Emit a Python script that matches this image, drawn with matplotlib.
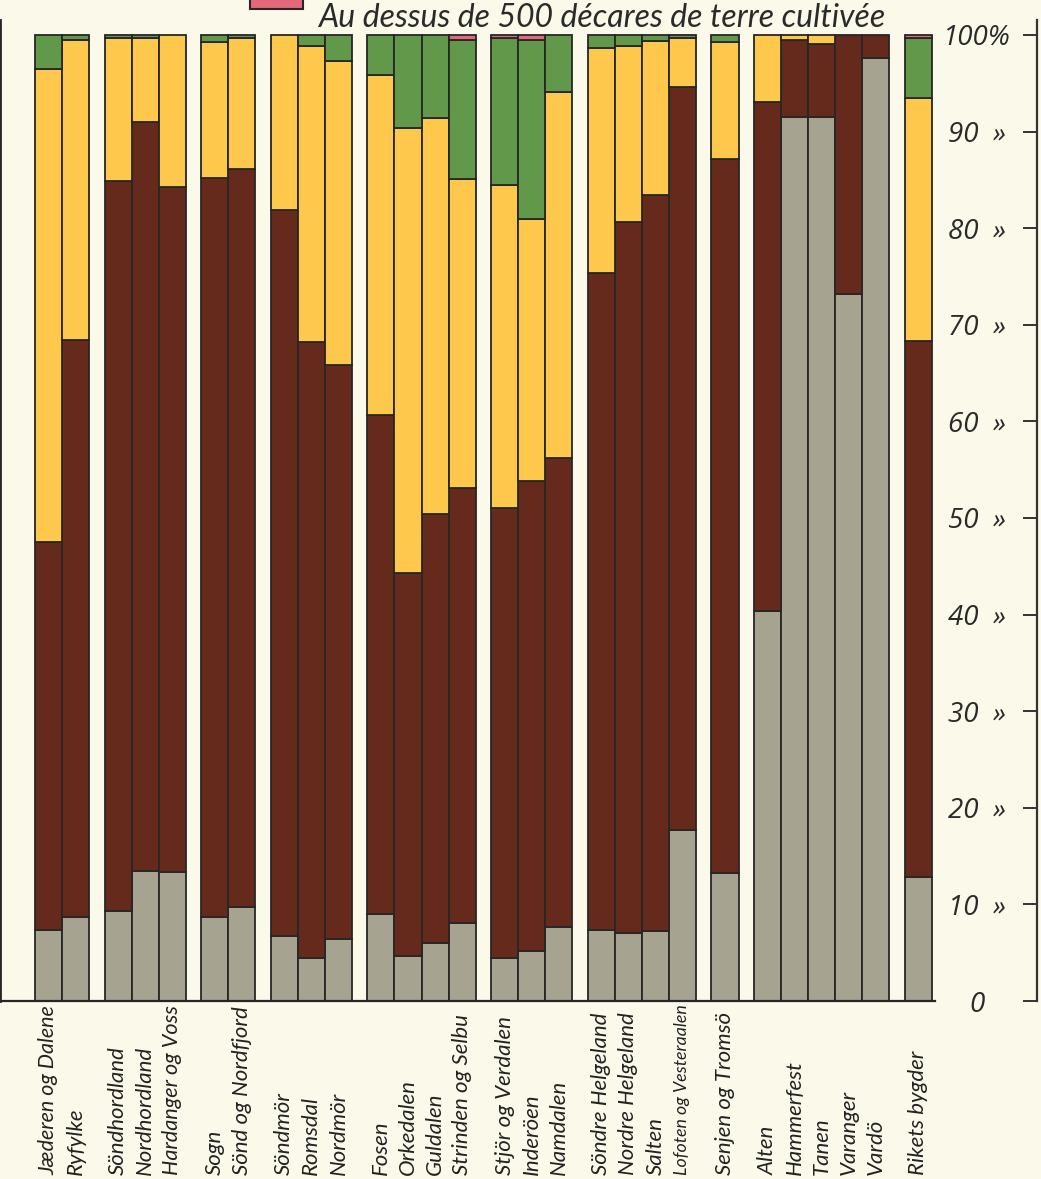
import matplotlib
matplotlib.use("Agg")
import matplotlib.pyplot as plt
from matplotlib.patches import Rectangle
import numpy as np

# ---------------- data ----------------
group_sizes = [2, 3, 2, 3, 4, 3, 4, 1, 5, 1]
districts = [
    "Jæderen og Dalene", "Ryfylke",
    "Söndhordland", "Nordhordland", "Hardanger og Voss",
    "Sogn", "Sönd og Nordfjord",
    "Söndmör", "Romsdal", "Nordmör",
    "Fosen", "Orkedalen", "Guldalen", "Strinden og Selbu",
    "Stjör og Verdalen", "Inderöen", "Namdalen",
    "Söndre Helgeland", "Nordre Helgeland", "Salten", "Lofoten og Vesteraalen",
    "Senjen og Tromsö",
    "Alten", "Hammerfest", "Tanen", "Varanger", "Vardö",
    "Rikets bygder",
]
grey = [7.3, 8.7, 9.3, 13.5, 13.4, 8.7, 9.7, 6.7, 4.4, 6.4, 9.0, 4.7, 6.0, 8.1,
        4.5, 5.2, 7.7, 7.3, 7.0, 7.2, 17.7, 13.3, 40.4, 91.5, 91.5, 73.2, 97.6, 12.8]
brown = [40.2, 59.7, 75.6, 77.5, 70.9, 76.5, 76.4, 75.2, 63.8, 59.4, 51.7, 39.6, 44.4, 45.0,
         46.5, 48.6, 48.5, 68.1, 73.6, 76.2, 76.9, 73.9, 52.7, 8.0, 7.6, 26.8, 2.4, 55.5]
yellow = [49.0, 31.1, 14.8, 8.7, 15.7, 14.1, 13.6, 18.1, 30.7, 31.5, 35.2, 46.1, 41.0, 32.0,
          33.5, 27.2, 37.9, 23.3, 18.3, 16.0, 5.1, 12.1, 6.9, 0.5, 0.9, 0.0, 0.0, 25.2]
green = [3.5, 0.5, 0.3, 0.3, 0.0, 0.7, 0.3, 0.0, 1.1, 2.7, 4.1, 9.6, 8.6, 14.4,
         15.2, 18.5, 5.9, 1.3, 1.1, 0.6, 0.3, 0.7, 0.0, 0.0, 0.0, 0.0, 0.0, 6.2]
pink = [0, 0, 0, 0, 0, 0, 0, 0, 0, 0, 0, 0, 0, 0.5,
        0.3, 0.5, 0, 0, 0, 0, 0, 0, 0, 0, 0, 0, 0, 0.3]
series = [grey, brown, yellow, green, pink]
series_colors = ["#a6a391", "#652a1c", "#fdc84b", "#61984a", "#e3687a"]
ytick_values = [0, 10, 20, 30, 40, 50, 60, 70, 80, 90, 100]
ytick_labels = ["0", "10  »", "20  »", "30  »", "40  »", "50  »", "60  »", "70  »",
                "80  »", "90  »", "100%"]
legend_text = "Au dessus de 500 décares de terre cultivée"

# ---------------- layout ----------------
W, H = 1041, 1179
bg = "#fbf9ea"
ink = "#262626"
fig = plt.figure(figsize=(W / 100, H / 100), dpi=100, facecolor=bg)

ax_left_px, ax_right_px = 0, 1037
base_px, top_px = 1001, 20
ax = fig.add_axes([ax_left_px / W, (H - base_px) / H,
                   (ax_right_px - ax_left_px) / W, (base_px - top_px) / H])
ax.set_facecolor(bg)

gap = 0.57
xpos = []
cur = 0.0
for gs in group_sizes:
    for i in range(gs):
        xpos.append(cur)
        cur += 1.0
    cur += gap
xpos = np.array(xpos)

bar_px = 27.07
x0 = -48.5 / bar_px
ax.set_xlim(x0, x0 + (ax_right_px - ax_left_px) / bar_px)
px_per_pct = (base_px - 35) / 100.0
ax.set_ylim(0, (base_px - top_px) / px_per_pct)

bottom = np.zeros(len(districts))
for vals, col in zip(series, series_colors):
    v = np.array(vals, dtype=float)
    mask = v > 0
    ax.bar(xpos[mask], v[mask], width=1.0, bottom=bottom[mask], color=col,
           edgecolor=ink, linewidth=1.3, zorder=2)
    bottom += v

# spines
ax.spines["top"].set_visible(False)
ax.spines["left"].set_color(ink)
ax.spines["left"].set_linewidth(2.0)
ax.spines["right"].set_color("#333333")
ax.spines["right"].set_linewidth(1.6)
ax.spines["bottom"].set_color(ink)
ax.spines["bottom"].set_linewidth(1.6)
ax.spines["bottom"].set_bounds(x0, x0 + 935 / bar_px)

# y axis on right, ticks pointing in, labels inside
ax.yaxis.tick_right()
ax.set_yticks(ytick_values)
ax.set_yticklabels(ytick_labels)
ax.tick_params(axis="y", direction="in", length=10, width=1.4, color="#333333",
               pad=-43, labelsize=20, labelcolor="#2a2a2a")
for lbl in ax.get_yticklabels():
    lbl.set_ha("center")
    lbl.set_fontstyle("italic")
    lbl.set_family("Open Sans")

# x labels
ax.set_xticks(xpos)
ax.set_xticklabels(districts, rotation=90)
base_fs = 16
ax.tick_params(axis="x", length=0, pad=(1175 - base_px) * 72 / 100, labelsize=base_fs,
               labelcolor="#222222")
for lbl in ax.get_xticklabels():
    lbl.set_va("bottom")
    lbl.set_fontstyle("italic")
    lbl.set_family("Lato")

# shrink long labels to fit below the baseline
fig.canvas.draw()
renderer = fig.canvas.get_renderer()
max_h = 170
for lbl in ax.get_xticklabels():
    h = lbl.get_window_extent(renderer).height
    if h > max_h:
        lbl.set_fontsize(base_fs * max_h / h)

# legend entry at the top (pink category)
fig.patches.append(Rectangle((250 / W, 1 - 9 / H), 53 / W, 30 / H,
                             transform=fig.transFigure, facecolor=series_colors[4],
                             edgecolor=ink, linewidth=1.5, zorder=5))
fig.text(318 / W, 1 - 27 / H, legend_text, fontsize=23, style="italic",
         family="Lato", color="#2a2a2a", va="baseline", ha="left")

fig.savefig("out.png", dpi=100, facecolor=bg)
